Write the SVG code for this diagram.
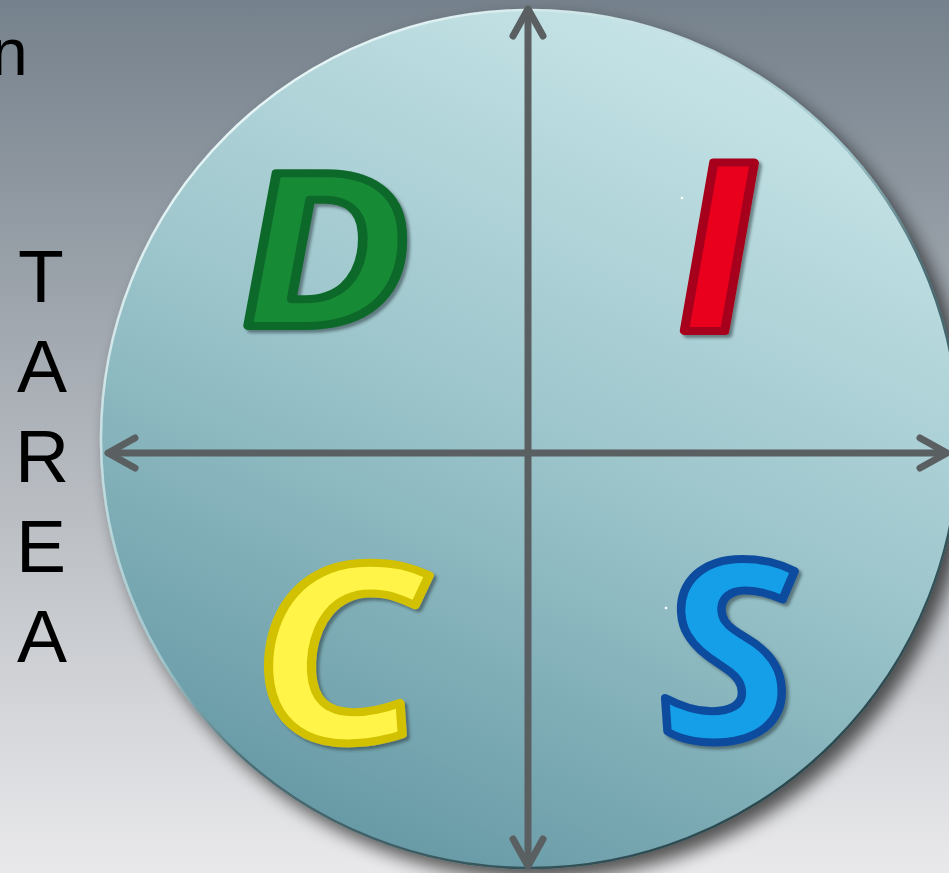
<svg xmlns="http://www.w3.org/2000/svg" width="949" height="873" viewBox="0 0 949 873">
<defs>
<linearGradient id="bg" x1="0" y1="0" x2="0" y2="1">
<stop offset="0" stop-color="#75818c"/>
<stop offset="0.5" stop-color="#b0b5bb"/>
<stop offset="1" stop-color="#e9e9eb"/>
</linearGradient>
<linearGradient id="disc" x1="0.75" y1="0.02" x2="0.3" y2="0.98">
<stop offset="0" stop-color="#c9e6e9"/>
<stop offset="0.5" stop-color="#9cc5cb"/>
<stop offset="1" stop-color="#6699a5"/>
</linearGradient>
<linearGradient id="rim" x1="0.2" y1="0.1" x2="0.8" y2="0.9">
<stop offset="0" stop-color="#e6f4f5"/>
<stop offset="0.45" stop-color="#9fc6cc"/>
<stop offset="0.6" stop-color="#4d6f76"/>
<stop offset="1" stop-color="#2c4a50"/>
</linearGradient>
<filter id="discShadow" x="-10%" y="-10%" width="125%" height="125%">
<feGaussianBlur in="SourceAlpha" stdDeviation="9"/>
<feOffset dx="9" dy="10" result="b"/>
<feComponentTransfer><feFuncA type="linear" slope="0.65"/></feComponentTransfer>
<feMerge><feMergeNode/><feMergeNode in="SourceGraphic"/></feMerge>
</filter>
<filter id="letterShadow" x="-20%" y="-20%" width="140%" height="140%">
<feDropShadow dx="3" dy="3" stdDeviation="1.5" flood-color="#2a3a3e" flood-opacity="0.55"/>
</filter>
<marker id="head" markerUnits="userSpaceOnUse" viewBox="-40 -20 50 40" markerWidth="50" markerHeight="40" refX="0" refY="0" orient="auto-start-reverse" overflow="visible">
<path d="M -27 -15 L 0 0 L -27 15" fill="none" stroke="#5a5f61" stroke-width="7" stroke-linecap="round" stroke-linejoin="round"/>
</marker>
</defs>
<style>
.lbl{font-family:"Liberation Sans",Arial,sans-serif;font-size:75px;fill:#000;text-anchor:middle}
.big{font-family:"Open Sans","DejaVu Sans",sans-serif;font-weight:700;font-style:italic;text-anchor:middle;stroke-width:8;stroke-linejoin:round}
.axis{stroke:#5a5f61;stroke-width:7;fill:none;marker-start:url(#head);marker-end:url(#head)}
</style>
<rect width="949" height="873" fill="url(#bg)"/>
<g id="disc-node">
<circle cx="530" cy="439" r="429" fill="url(#disc)" stroke="url(#rim)" stroke-width="2.5" filter="url(#discShadow)"/>
</g>
<g id="text-n"><text class="lbl" x="-9" y="75" style="text-anchor:start;font-size:66px">n</text></g>
<g id="tarea">
<text class="lbl" x="41" y="302">T</text>
<text class="lbl" x="42" y="392">A</text>
<text class="lbl" x="42" y="482">R</text>
<text class="lbl" x="41" y="572">E</text>
<text class="lbl" x="42" y="662">A</text>
</g>
<g id="connectors">
<line class="axis" x1="528" y1="866" x2="528" y2="9"/>
<line class="axis" x1="108" y1="453" x2="947" y2="453"/>
</g>
<g id="node-D" filter="url(#letterShadow)"><text class="big" transform="translate(329 326) skewX(4) scale(1.21 1)" x="0" y="0" style="font-size:214px;fill:#188a36;stroke:#0e692b">D</text></g>
<g id="node-I" filter="url(#letterShadow)"><text class="big" transform="translate(721 331) skewX(4) scale(1.15 1)" x="0" y="0" style="font-size:236px;fill:#e8001f;stroke:#a6001a">I</text></g>
<g id="node-C" filter="url(#letterShadow)"><text class="big" transform="translate(343 741) skewX(4) scale(1.15 1)" x="0" y="0" style="font-size:246px;fill:#fff447;stroke:#d1c100">C</text></g>
<g id="node-S" filter="url(#letterShadow)"><text class="big" transform="translate(733 740) skewX(4) scale(1.06 1)" x="0" y="0" style="font-size:250px;fill:#169fe9;stroke:#0b4c9e">S</text></g>
<circle cx="682" cy="198" r="1.3" fill="#ffffff"/>
<circle cx="666" cy="608" r="1.3" fill="#ffffff"/>
</svg>
